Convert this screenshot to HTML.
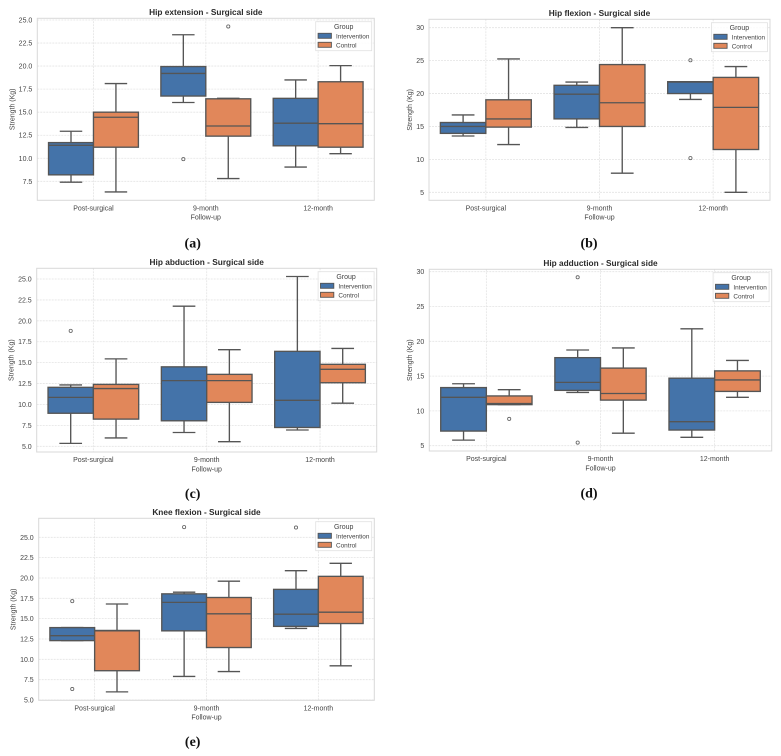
<!DOCTYPE html>
<html lang="en">
<head>
<meta charset="utf-8">
<title>Strength box plots - Surgical side</title>
<style>
html,body{margin:0;padding:0;background:#fff;width:781px;height:756px;overflow:hidden}
svg{display:block;position:absolute;left:0;top:0;filter:blur(0.3px)}
text{font-family:"Liberation Sans",sans-serif;fill:#444}
.cap{font-family:"Liberation Serif",serif;font-weight:bold;fill:#111;font-size:14px}
</style>
</head>
<body>
<svg id="figure" width="781" height="756" viewBox="0 0 781 756" xmlns="http://www.w3.org/2000/svg"></svg>
<script>
// Shared categories and groups
const categories = ['Post-surgical', '9-month', '12-month'];
const groups = ['Intervention', 'Control'];

// Tick labels
const ticksHalf25 = ['7.5', '10.0', '12.5', '15.0', '17.5', '20.0', '22.5', '25.0'];
const ticksHalf25Low5 = ['5.0', '7.5', '10.0', '12.5', '15.0', '17.5', '20.0', '22.5', '25.0'];
const ticksFives = ['5', '10', '15', '20', '25', '30'];

// Box stats per category: [low whisker, q1, median, q3, high whisker]
const hipExtensionIntervention = [[7.4, 8.2, 11.4, 11.7, 12.93], [16.05, 16.75, 19.2, 19.95, 23.4], [9.05, 11.35, 13.8, 16.5, 18.5]];
const hipExtensionControl = [[6.35, 11.2, 14.45, 15.0, 18.1], [7.8, 12.4, 13.5, 16.45, 16.5], [10.5, 11.2, 13.75, 18.3, 20.05]];
const hipExtensionInterventionOutliers = [[], [9.9], []];
const hipExtensionControlOutliers = [[], [24.3], []];

const hipFlexionIntervention = [[13.55, 13.95, 15.0, 15.6, 16.75], [14.85, 16.15, 19.9, 21.25, 21.75], [19.1, 20.0, 21.75, 21.8, 21.8]];
const hipFlexionControl = [[12.25, 14.9, 16.15, 19.05, 25.25], [7.9, 15.0, 18.6, 24.4, 30.0], [5.0, 11.5, 17.9, 22.45, 24.1]];
const hipFlexionInterventionOutliers = [[], [], [25.05, 10.2]];
const hipFlexionControlOutliers = [[], [], []];

const hipAbductionIntervention = [[5.35, 8.95, 10.85, 12.05, 12.33], [6.65, 8.05, 12.85, 14.5, 21.75], [6.95, 7.25, 10.5, 16.35, 25.3]];
const hipAbductionControl = [[6.0, 8.25, 11.9, 12.4, 15.45], [5.55, 10.25, 12.85, 13.6, 16.55], [10.15, 12.6, 14.2, 14.8, 16.7]];
const hipAbductionInterventionOutliers = [[18.8], [], []];
const hipAbductionControlOutliers = [[], [], []];

const hipAdductionIntervention = [[5.8, 7.1, 11.95, 13.35, 13.9], [12.65, 12.95, 14.1, 17.65, 18.75], [6.2, 7.25, 8.45, 14.7, 21.8]];
const hipAdductionControl = [[10.9, 10.9, 11.05, 12.15, 13.05], [6.8, 11.55, 12.5, 16.15, 19.05], [11.95, 12.8, 14.45, 15.75, 17.25]];
const hipAdductionInterventionOutliers = [[], [29.2, 5.45], []];
const hipAdductionControlOutliers = [[8.85], [], []];

const kneeFlexionIntervention = [[12.3, 12.3, 12.9, 13.9, 13.9], [7.9, 13.5, 17.0, 18.05, 18.25], [13.8, 14.05, 15.55, 18.6, 20.9]];
const kneeFlexionControl = [[6.0, 8.6, 13.5, 13.55, 16.8], [8.5, 11.45, 15.6, 17.6, 19.6], [9.2, 14.4, 15.8, 20.2, 21.8]];
const kneeFlexionInterventionOutliers = [[17.15, 6.35], [26.25], [26.2]];
const kneeFlexionControlOutliers = [[], [], []];

const panels = [
  {id: 'hip-extension', title: 'Hip extension - Surgical side', caption: '(a)', capX: 192.7, capY: 247.5,
   l: 37.3, r: 374.3, t: 18.3, b: 200.3, vA: 25, yA: 20, vB: 7.5, yB: 181.3, ticks: ticksHalf25, tickGap: 5, labelGap: 24.3,
   stats: [hipExtensionIntervention, hipExtensionControl], out: [hipExtensionInterventionOutliers, hipExtensionControlOutliers]},
  {id: 'hip-flexion', title: 'Hip flexion - Surgical side', caption: '(b)', capX: 589, capY: 247.5,
   l: 429, r: 770, t: 19.3, b: 200.3, vA: 30, yA: 27.7, vB: 5, yB: 192.3, ticks: ticksFives, tickGap: 5, labelGap: 18.3,
   stats: [hipFlexionIntervention, hipFlexionControl], out: [hipFlexionInterventionOutliers, hipFlexionControlOutliers]},
  {id: 'hip-abduction', title: 'Hip abduction - Surgical side', caption: '(c)', capX: 192.7, capY: 498,
   l: 36.7, r: 376.7, t: 268.3, b: 452, vA: 25, yA: 279, vB: 5, yB: 446.3, ticks: ticksHalf25Low5, tickGap: 5, labelGap: 24.7,
   stats: [hipAbductionIntervention, hipAbductionControl], out: [hipAbductionInterventionOutliers, hipAbductionControlOutliers]},
  {id: 'hip-adduction', title: 'Hip adduction - Surgical side', caption: '(d)', capX: 589, capY: 497.5,
   l: 429.3, r: 771.7, t: 269.3, b: 451, vA: 30, yA: 271.7, vB: 5, yB: 445.7, ticks: ticksFives, tickGap: 5, labelGap: 18.6,
   stats: [hipAdductionIntervention, hipAdductionControl], out: [hipAdductionInterventionOutliers, hipAdductionControlOutliers]},
  {id: 'knee-flexion', title: 'Knee flexion - Surgical side', caption: '(e)', capX: 192.7, capY: 746,
   l: 38.7, r: 374.3, t: 518.3, b: 700.3, vA: 25, yA: 537.3, vB: 5, yB: 700, ticks: ticksHalf25Low5, tickGap: 5, labelGap: 24.7,
   stats: [kneeFlexionIntervention, kneeFlexionControl], out: [kneeFlexionInterventionOutliers, kneeFlexionControlOutliers]}
];

const groupColors = ['#4473a9', '#e1875a'];
const lineColor = '#555555';
const NS = 'http://www.w3.org/2000/svg';
const svg = document.getElementById('figure');

function make(parent, tag, attrs, text) {
  const node = document.createElementNS(NS, tag);
  for (const k in attrs) node.setAttribute(k, attrs[k]);
  if (text !== undefined) node.textContent = text;
  parent.appendChild(node);
  return node;
}

panels.forEach(function (p) {
  const xScale = function (v) { return p.l + (v + 0.5) * (p.r - p.l) / 3; };
  const yScale = function (v) { return p.yA + (v - p.vA) * (p.yB - p.yA) / (p.vB - p.vA); };
  const unit = (p.r - p.l) / 3;

  const g = make(svg, 'g', {});
  
  

  const chartTitle = make(g, 'text', {x: (p.l + p.r) / 2, y: p.t - 3.3, 'text-anchor': 'middle', 'font-size': 8.3, 'font-weight': 'bold', style: 'fill:#2a2a2a'}, p.title);
  
  

  const plotBg = make(g, 'rect', {x: p.l, y: p.t, width: p.r - p.l, height: p.b - p.t, fill: '#fff'});
  
  

  p.ticks.forEach(function (t) {
    const y = yScale(parseFloat(t));
    const gridY = make(g, 'line', {x1: p.l, x2: p.r, y1: y, y2: y, stroke: '#e4e4e4', 'stroke-width': 0.8, 'stroke-dasharray': '2 1'});
    
    
    const tickY = make(g, 'text', {x: p.l - p.tickGap, y: y + 2.5, 'text-anchor': 'end', 'font-size': 7}, t);
    
    
  });

  categories.forEach(function (c, i) {
    const x = xScale(i);
    const gridX = make(g, 'line', {x1: x, x2: x, y1: p.t, y2: p.b, stroke: '#e4e4e4', 'stroke-width': 0.8, 'stroke-dasharray': '2 1'});
    
    
    const tickX = make(g, 'text', {x: x, y: p.b + 10, 'text-anchor': 'middle', 'font-size': 7}, c);
    
    
  });

  groups.forEach(function (grp, gi) {
    const boxW = unit * 0.4;
    p.stats[gi].forEach(function (s, ci) {
      const cx = xScale(ci) + (gi === 0 ? -boxW / 2 : boxW / 2);
      const x0 = cx - boxW / 2;
      const low = yScale(s[0]), q1 = yScale(s[1]), med = yScale(s[2]), q3 = yScale(s[3]), high = yScale(s[4]);
      const lineW = 1.35;

      const whiskers = make(g, 'path', {d: 'M' + cx + ' ' + q3 + 'V' + high + 'M' + (cx - boxW / 4) + ' ' + high + 'H' + (cx + boxW / 4) + 'M' + cx + ' ' + q1 + 'V' + low + 'M' + (cx - boxW / 4) + ' ' + low + 'H' + (cx + boxW / 4), fill: 'none', stroke: lineColor, 'stroke-width': lineW});
      
      

      const box = make(g, 'rect', {x: x0, y: q3, width: boxW, height: q1 - q3, fill: groupColors[gi], stroke: lineColor, 'stroke-width': lineW});
      
      

      const median = make(g, 'line', {x1: x0, x2: x0 + boxW, y1: med, y2: med, stroke: lineColor, 'stroke-width': lineW});
      
      

      p.out[gi][ci].forEach(function (v) {
        const flier = make(g, 'circle', {cx: cx, cy: yScale(v), r: 1.6, fill: 'none', stroke: '#5f5f5f', 'stroke-width': 0.8});
        
        
      });
    });
  });

  const frame = make(g, 'rect', {x: p.l, y: p.t, width: p.r - p.l, height: p.b - p.t, fill: 'none', stroke: '#d8d8d8', 'stroke-width': 1});
  
  

  const xTitle = make(g, 'text', {x: (p.l + p.r) / 2, y: p.b + 19.4, 'text-anchor': 'middle', 'font-size': 7}, 'Follow-up');
  
  

  const yTx = p.l - p.labelGap, yTy = (p.t + p.b) / 2;
  const yTitle = make(g, 'text', {x: yTx, y: yTy, 'text-anchor': 'middle', 'font-size': 7, transform: 'rotate(-90 ' + yTx + ' ' + yTy + ')', 'dominant-baseline': 'central'}, 'Strength (Kg)');
  
  

  const lx = p.r - 58.6, ly = p.t + 3.4;
  const legend = make(g, 'g', {});
  
  
  const legendBox = make(legend, 'rect', {x: lx, y: ly, width: 56, height: 29, fill: '#fff', 'fill-opacity': 0.85, stroke: '#e0e0e0', 'stroke-width': 0.8});
  
  
  const legendTitle = make(legend, 'text', {x: lx + 28, y: ly + 7.4, 'text-anchor': 'middle', 'font-size': 7}, 'Group');
  
  
  groups.forEach(function (grp, gi) {
    const rowY = ly + 11.6 + gi * 9;
    const swatch = make(legend, 'rect', {x: lx + 2.4, y: rowY, width: 13.3, height: 5, fill: groupColors[gi], stroke: lineColor, 'stroke-width': 0.9});
    
    
    const entry = make(legend, 'text', {x: lx + 20.3, y: rowY + 5, 'font-size': 6.4}, grp);
    
    
  });

  const cap = make(svg, 'text', {x: p.capX, y: p.capY, 'text-anchor': 'middle', class: 'cap'}, p.caption);
  
  
});
</script>
</body>
</html>
